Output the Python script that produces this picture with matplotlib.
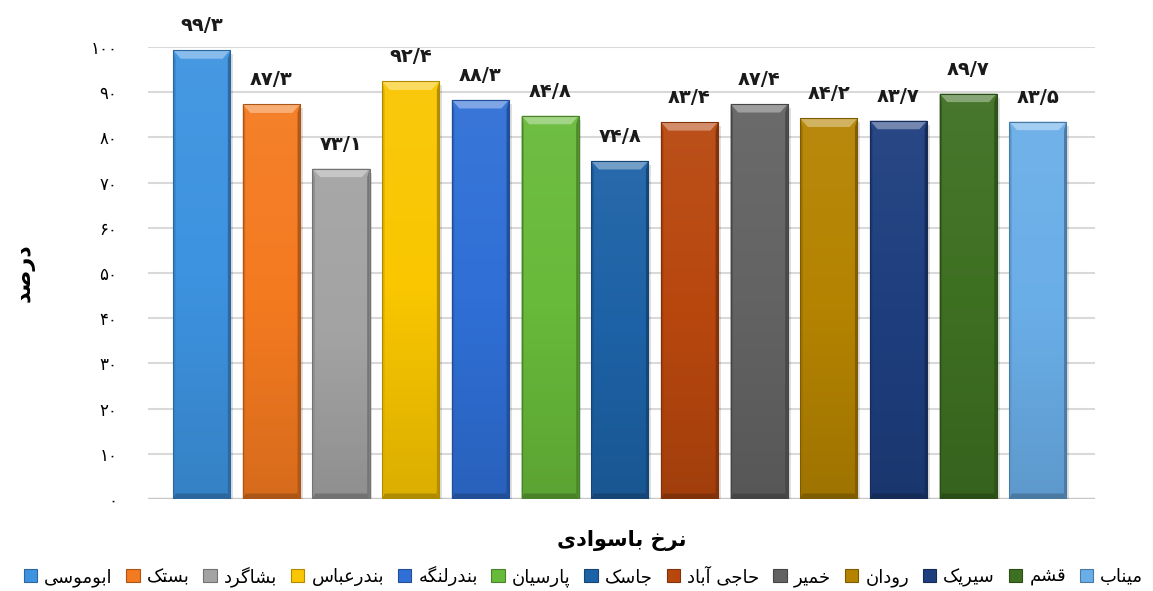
import numpy as np
import matplotlib
matplotlib.use('Agg')
import matplotlib.pyplot as plt
from matplotlib.patches import Polygon, Rectangle
from matplotlib.colors import to_rgb, LinearSegmentedColormap

plt.rcParams['font.family'] = ['DejaVu Sans']

# داده‌ها
names = ['ابوموسی', 'بستک', 'بشاگرد', 'بندرعباس', 'بندرلنگه', 'پارسیان', 'جاسک',
         'حاجی آباد', 'خمیر', 'رودان', 'سیریک', 'قشم', 'میناب']
values = [99.3, 87.3, 73.1, 92.4, 88.3, 84.8, 74.8, 83.4, 87.4, 84.2, 83.7, 89.7, 83.5]
colors = ['#3D93E0', '#F47A20', '#A3A3A3', '#F9C600', '#2F6FD6', '#68BA3A', '#1D62A6',
          '#B8470E', '#636363', '#B48300', '#1E3E7E', '#3E7022', '#6AAEE8']
yticks = list(range(0, 101, 10))
xlabel = 'نرخ باسوادی'
ylabel = 'درصد'

# --- شکل‌دهی ساده حروف فارسی (matplotlib خودش اتصال حروف را انجام نمی‌دهد)
FORMS = {  # iso, fin, ini, med
    'ا': ('\uFE8D', '\uFE8E', None, None), 'آ': ('\uFE81', '\uFE82', None, None),
    'ب': ('\uFE8F', '\uFE90', '\uFE91', '\uFE92'), 'پ': ('\uFB56', '\uFB57', '\uFB58', '\uFB59'),
    'ت': ('\uFE95', '\uFE96', '\uFE97', '\uFE98'), 'ج': ('\uFE9D', '\uFE9E', '\uFE9F', '\uFEA0'),
    'ح': ('\uFEA1', '\uFEA2', '\uFEA3', '\uFEA4'), 'خ': ('\uFEA5', '\uFEA6', '\uFEA7', '\uFEA8'),
    'د': ('\uFEA9', '\uFEAA', None, None), 'ر': ('\uFEAD', '\uFEAE', None, None),
    'ز': ('\uFEAF', '\uFEB0', None, None), 'و': ('\uFEED', '\uFEEE', None, None),
    'س': ('\uFEB1', '\uFEB2', '\uFEB3', '\uFEB4'), 'ش': ('\uFEB5', '\uFEB6', '\uFEB7', '\uFEB8'),
    'ص': ('\uFEB9', '\uFEBA', '\uFEBB', '\uFEBC'), 'ع': ('\uFEC9', '\uFECA', '\uFECB', '\uFECC'),
    'ق': ('\uFED5', '\uFED6', '\uFED7', '\uFED8'), 'ک': ('\uFB8E', '\uFB8F', '\uFB90', '\uFB91'),
    'گ': ('\uFB92', '\uFB93', '\uFB94', '\uFB95'), 'ل': ('\uFEDD', '\uFEDE', '\uFEDF', '\uFEE0'),
    'م': ('\uFEE1', '\uFEE2', '\uFEE3', '\uFEE4'), 'ن': ('\uFEE5', '\uFEE6', '\uFEE7', '\uFEE8'),
    'ه': ('\uFEE9', '\uFEEA', '\uFEEB', '\uFEEC'), 'ی': ('\uFEEF', '\uFEF0', '\uFEF3', '\uFEF4'),
}


def fa(text):
    out = []
    for i, ch in enumerate(text):
        if ch not in FORMS:
            out.append(ch)
            continue
        prev = text[i - 1] if i > 0 else ''
        nxt = text[i + 1] if i + 1 < len(text) else ''
        pj = prev in FORMS and FORMS[prev][2] is not None
        nj = FORMS[ch][2] is not None and nxt in FORMS
        f = FORMS[ch]
        if pj and nj:
            out.append(f[3])
        elif pj:
            out.append(f[1])
        elif nj:
            out.append(f[2])
        else:
            out.append(f[0])
    return ''.join(out)[::-1]


def fa_num(v, dec=True):
    s = f'{v:.1f}'.replace('.', '/') if dec else str(v)
    return s.translate(str.maketrans('0123456789', '۰۱۲۳۴۵۶۷۸۹'))


def shade(c, k):
    r = np.array(to_rgb(c))
    if k > 0:
        return tuple(r + (1 - r) * k)
    return tuple(r * (1 + k))


fig = plt.figure(figsize=(11.53, 5.91), dpi=100)
ax = fig.add_axes([0.1284, 0.1557, 0.8213, 0.7648])

x = np.arange(len(values))
w = 0.82
for i in yticks[1:]:
    ax.axhline(i, color='#D9D9D9', lw=1.5, zorder=0)
ax.axhline(0, color='#C8C8C8', lw=2.5, zorder=1)

bars = ax.bar(x, values, width=w, color=colors, edgecolor='none', zorder=3)

# گرادیان، جلوه برجسته (bevel) و سایه
bx, by = 0.11, 1.9
sx = 0.035
grad = np.linspace(0, 1, 100).reshape(-1, 1)
for b, c in zip(bars, colors):
    x0, x1, h = b.get_x(), b.get_x() + b.get_width(), b.get_height()
    cmap = LinearSegmentedColormap.from_list('g', [shade(c, -0.12), c, shade(c, 0.05)])
    im = ax.imshow(grad, extent=[x0, x1, 0, h], origin='lower', aspect='auto', cmap=cmap,
                   zorder=3.5)
    im.set_clip_path(b)
    ax.add_patch(Rectangle((x0 + 0.04, -0.9), x1 - x0, h, color='#000000', alpha=0.12,
                           lw=0, zorder=2))
    ax.add_patch(Polygon([(x0, h), (x1, h), (x1 - bx, h - by), (x0 + bx, h - by)],
                         closed=True, color=shade(c, 0.38), lw=0, zorder=4))
    ax.add_patch(Polygon([(x0, 0), (x1, 0), (x1 - sx, 1.2), (x0 + sx, 1.2)],
                         closed=True, color=shade(c, -0.3), lw=0, zorder=4))
    ax.add_patch(Polygon([(x0, 0), (x0, h), (x0 + sx, h - by), (x0 + sx, 1.2)],
                         closed=True, color=shade(c, -0.12), lw=0, zorder=4))
    ax.add_patch(Polygon([(x1, 0), (x1, h), (x1 - sx, h - by), (x1 - sx, 1.2)],
                         closed=True, color=shade(c, -0.28), lw=0, zorder=4))
    ax.add_patch(Rectangle((x0, 0), x1 - x0, h, fill=False, ec=shade(c, -0.3), lw=0.8,
                           zorder=5))
    ax.text(b.get_x() + b.get_width() / 2, h + 3.3, fa_num(h), ha='center', va='bottom',
            fontsize=14, fontweight='bold', color='#1A1A1A')

ax.set_xlim(-0.77, 12.82)
ax.set_ylim(0, 100)
ax.set_yticks(yticks)
ax.set_yticklabels([fa_num(t, dec=False) for t in yticks], fontsize=12)
ax.set_xticks([])
ax.tick_params(axis='y', length=0, pad=22)
for s in ax.spines.values():
    s.set_visible(False)

ax.set_xlabel(fa(xlabel), fontsize=15, fontweight='bold', labelpad=22)
ax.set_ylabel(fa(ylabel), fontsize=16, fontweight='bold', labelpad=40)

handles = [Rectangle((0, 0), 1, 1, fc=c, ec=shade(c, -0.3), lw=0.8) for c in colors]
fig.legend(handles, [fa(n) for n in names], loc='lower center', ncol=13, frameon=False,
           fontsize=13, handlelength=0.75, handleheight=0.75, handletextpad=0.4,
           columnspacing=0.75, bbox_to_anchor=(0.506, -0.02))

fig.savefig('out.png', dpi=100)
